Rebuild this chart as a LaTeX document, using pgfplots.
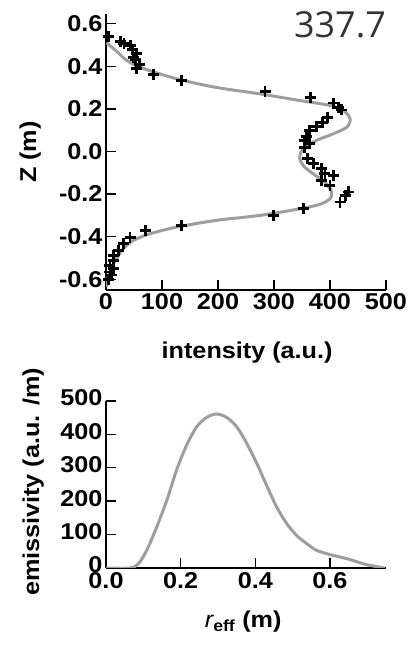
\documentclass[border=0pt]{standalone}
\usepackage{pgfplots}
\pgfplotsset{compat=1.18}
\usepackage{fontspec}
\setmainfont{Liberation Sans}[FakeStretch=1.1]
\newfontfamily\numfont{Open Sans}
\definecolor{fitgray}{RGB}{158,158,158}
\begin{document}
\begin{tikzpicture}
\path[use as bounding box] (0bp,0bp) rectangle (411bp,646bp);
\pgfplotsset{every axis/.append style={
  scale only axis,
  axis x line*=bottom, axis y line*=left,
  axis line style={-, line width=1.4bp},
  tick align=inside, major tick length=10bp,
  every tick/.style={black, line width=1.4bp},
  tick label style={font=\fontsize{23}{26}\selectfont\bfseries},
  label style={font=\fontsize{23}{26}\selectfont\bfseries},
  /pgf/number format/assume math mode=true,
}}
% ---------- top: intensity profile ----------
\begin{axis}[
  at={(106bp,356bp)}, anchor=south west,
  width=280bp, height=276bp,
  xmin=0, xmax=500, ymin=-0.65, ymax=0.645,
  xtick={0,100,200,300,400,500},
  ytick={-0.6,-0.4,-0.2,0,0.2,0.4,0.6},
  yticklabel style={/pgf/number format/.cd, fixed, fixed zerofill, precision=1},
  xlabel={intensity (a.u.)},
  ylabel={Z (m)},
  xlabel style={at={(axis description cs:0.504,-0.225)}, anchor=center},
  ylabel style={at={(axis description cs:-0.271,0.5)}, anchor=center},
]
\addplot[fitgray, line width=3bp, smooth, tension=0.5] coordinates {
(1,0.51) (19,0.47) (37,0.427) (61,0.395) (96,0.364) (138,0.333) (198,0.30)
(275,0.27) (346,0.239) (400,0.216) (424,0.192) (436,0.153) (430,0.114)
(406,0.083) (376,0.052) (352,0.0125) (346,-0.027) (352,-0.066) (370,-0.105)
(391,-0.144) (403,-0.19) (400,-0.222) (382,-0.248) (346,-0.269) (275,-0.30)
(198,-0.323) (126,-0.355) (79,-0.386) (49,-0.417) (31,-0.456) (13,-0.527)
(4,-0.589) (1,-0.636)
};
\addplot[only marks, mark=+, mark size=5.5bp, black, line width=2.8bp] coordinates {
(4,0.539) (26,0.517) (32,0.508) (44,0.497) (48,0.477) (54,0.461) (49,0.442)
(52,0.43) (60,0.408) (55,0.3875) (85,0.361) (135,0.333) (284,0.283) (365,0.255)
(406,0.227) (415,0.208) (420,0.195) (396,0.161) (387,0.1375) (376,0.117)
(364,0.098) (358,0.070) (355,0.052) (363,0.036) (355,0.020) (360,-0.034)
(370,-0.058) (385,-0.081) (391,-0.105) (406,-0.1125) (385,-0.136) (400,-0.159)
(433,-0.19) (427,-0.206) (418,-0.2375) (352,-0.269) (299,-0.30) (135,-0.347)
(70,-0.37) (43,-0.405) (31,-0.433) (22,-0.464) (14,-0.4875) (13,-0.511)
(7,-0.534) (13,-0.55) (7,-0.566) (10,-0.58) (4,-0.60)
};
\end{axis}
% ---------- bottom: emissivity ----------
\begin{axis}[
  at={(106bp,78bp)}, anchor=south west,
  width=280bp, height=167bp,
  xmin=0, xmax=0.75, ymin=0, ymax=500,
  xtick={0,0.2,0.4,0.6},
  ytick={0,100,200,300,400,500},
  xticklabel style={yshift=-1bp, /pgf/number format/.cd, fixed, fixed zerofill, precision=1},
  yticklabel style={yshift=3bp},
  xlabel={{\mdseries\itshape r}\textsubscript{eff} (m)},
  ylabel={emissivity (a.u. /m)},
  xlabel style={at={(axis description cs:0.49,-0.323)}, anchor=center},
  ylabel style={at={(axis description cs:-0.26,0.515)}, anchor=center},
]
\addplot[fitgray, line width=3bp, smooth, tension=0.5] coordinates {
(0,0) (0.064,0) (0.087,13) (0.109,53) (0.136,123) (0.163,203) (0.189,293)
(0.216,368) (0.243,423) (0.27,451) (0.296,461) (0.323,451) (0.35,423)
(0.377,373) (0.404,313) (0.43,248) (0.457,183) (0.484,133) (0.51,98)
(0.5375,73) (0.564,53) (0.6,40) (0.645,28) (0.698,10) (0.747,0)
};
\end{axis}
\node[font=\numfont\fontsize{36}{40}\selectfont, text=black!80] at (340bp,621bp) {337.7};
\end{tikzpicture}
\end{document}
